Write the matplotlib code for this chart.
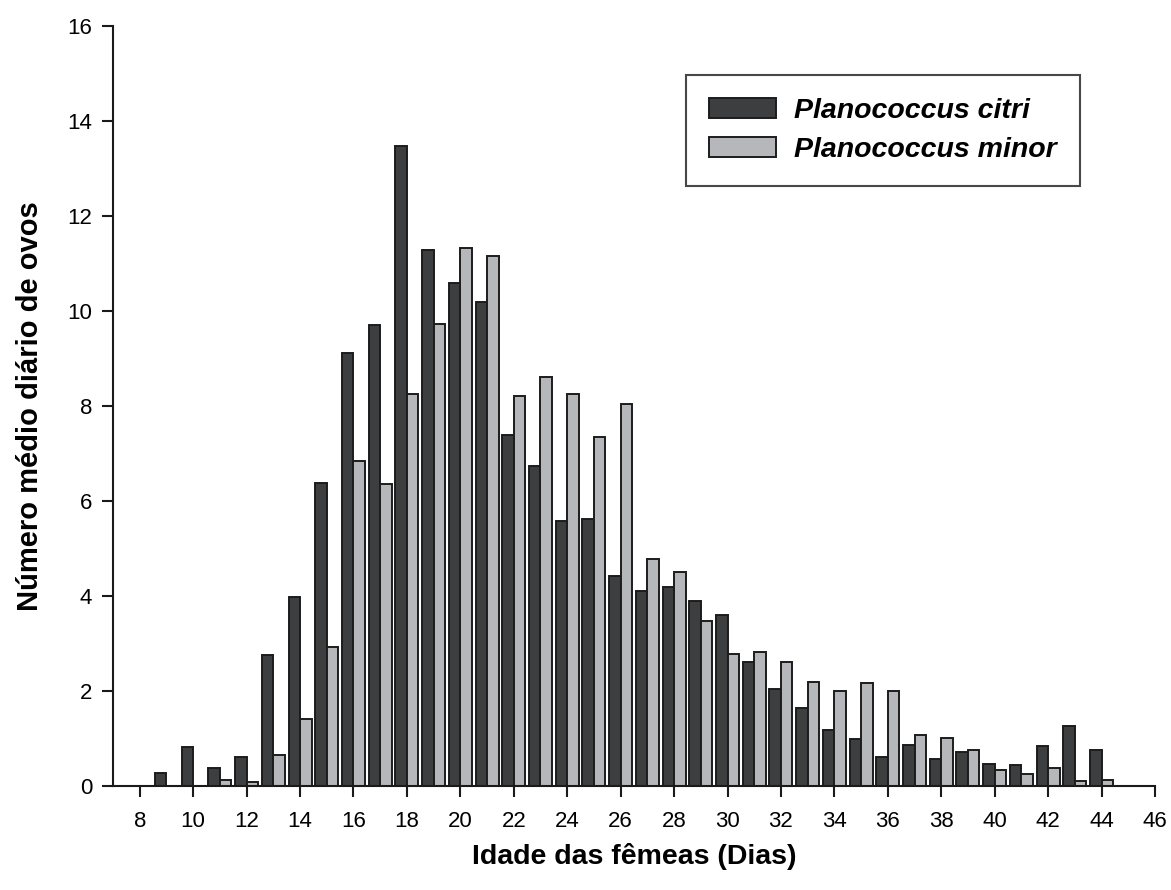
import numpy as np
import matplotlib
matplotlib.use("Agg")
import matplotlib.pyplot as plt

plt.rcParams['font.family'] = ['Liberation Sans', 'DejaVu Sans']

# idade das femeas (dias)
days = np.arange(9, 45)

# numero medio diario de ovos
citri = [0.27, 0.82, 0.38, 0.61, 2.75, 3.97, 6.37, 9.12, 9.70, 13.47,
         11.28, 10.60, 10.20, 7.38, 6.73, 5.57, 5.62, 4.42, 4.10, 4.18,
         3.90, 3.60, 2.62, 2.05, 1.65, 1.18, 1.00, 0.61, 0.86, 0.57,
         0.71, 0.46, 0.45, 0.84, 1.26, 0.76]
minor = [0.0, 0.0, 0.13, 0.08, 0.65, 1.42, 2.93, 6.85, 6.35, 8.25,
         9.73, 11.33, 11.15, 8.22, 8.62, 8.25, 7.35, 8.05, 4.78, 4.50,
         3.47, 2.77, 2.83, 2.62, 2.18, 2.00, 2.17, 2.00, 1.08, 1.01,
         0.76, 0.34, 0.25, 0.38, 0.10, 0.12]

labels = ['Planococcus citri', 'Planococcus minor']
xticks = np.arange(8, 47, 2)
yticks = np.arange(0, 17, 2)

fig = plt.figure(figsize=(11.71, 8.90), dpi=100)
ax = fig.add_axes([113/1171, 1-786/890, (1155-113)/1171, (786-26)/890])

w = 0.43
edge = '#1c1c1c'
# drop the zero-height minor bars (days 9 and 10)
m = np.array(minor) > 0
ax.bar(days - w/2, citri, width=w, color='#3d3e40', edgecolor=edge,
       linewidth=1.4, label=labels[0])
ax.bar(days[m] + w/2, np.array(minor)[m], width=w, color='#b6b7bb',
       edgecolor=edge, linewidth=1.4, label=labels[1])

ax.set_xlim(7, 46)
ax.set_ylim(0, 16)
ax.set_xticks(xticks)
ax.set_yticks(yticks)
ax.spines['top'].set_visible(False)
ax.spines['right'].set_visible(False)
for s in ['left', 'bottom']:
    ax.spines[s].set_linewidth(1.5)
    ax.spines[s].set_color('#1a1a1a')
ax.tick_params(direction='out', length=8, width=1.5, color='#1a1a1a',
               labelsize=16, pad=7)
ax.tick_params(axis='x', pad=10)

ax.set_xlabel('Idade das fêmeas (Dias)', fontsize=20.5, fontweight='bold',
              labelpad=8)
ax.set_ylabel('Número médio diário de ovos', fontsize=21, fontweight='bold',
              labelpad=17)

leg = ax.legend(loc='upper right', bbox_to_anchor=(1080/1171, 1-75/890),
                bbox_transform=fig.transFigure,
                prop={'size': 20.5, 'weight': 'bold', 'style': 'italic'},
                fancybox=False, frameon=True, edgecolor='#1a1a1a',
                handlelength=2.35, handleheight=0.72, handletextpad=0.65,
                borderpad=0.8, labelspacing=0.45, borderaxespad=0)
leg.get_frame().set_linewidth(1.5)

fig.savefig('out.png', dpi=100)
